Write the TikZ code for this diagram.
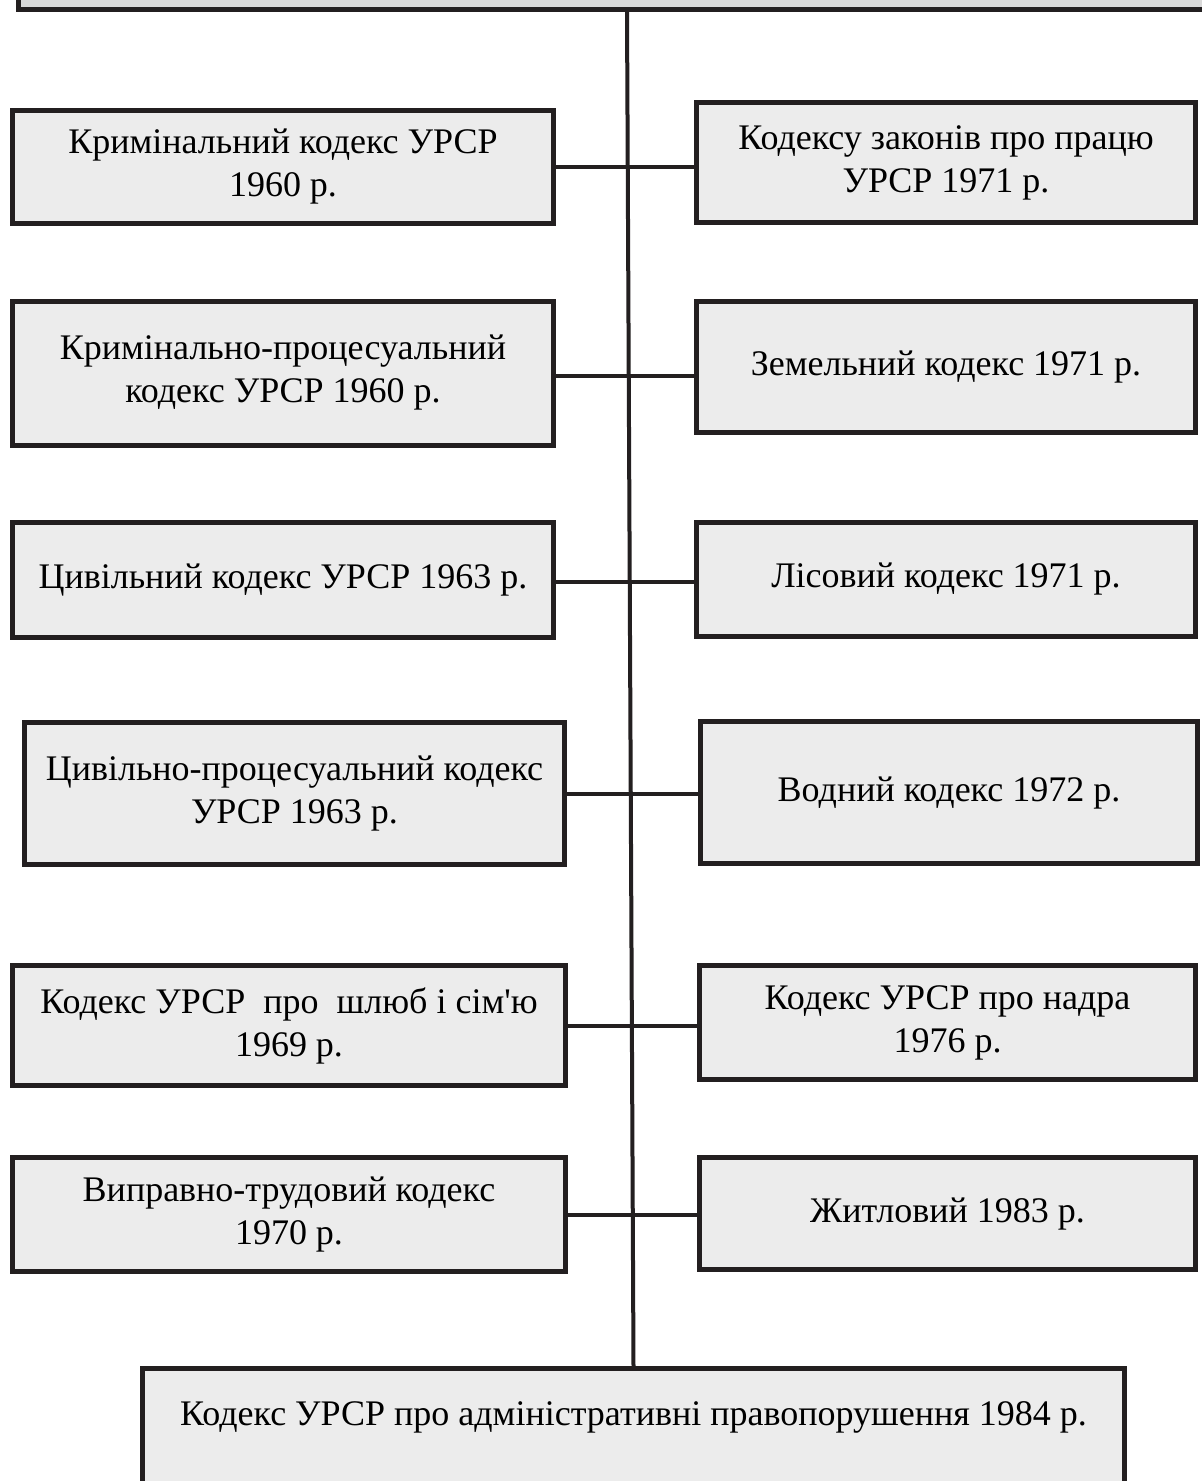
\documentclass[tikz,border=0pt]{standalone}
\usepackage{fontspec}
\setmainfont{Liberation Serif}[Ligatures=TeXOff]
\definecolor{frame}{HTML}{231F20}
\definecolor{boxfill}{HTML}{ECECEC}
\definecolor{headfill}{HTML}{D9D9D9}
\tikzset{
  codebox/.style={draw=frame, fill=boxfill, line width=5pt, inner sep=0pt,
    align=center, font=\fontsize{36}{43}\selectfont},
  link/.style={draw=frame, line width=4pt}
}
\begin{document}
\begin{tikzpicture}[x=1pt, y=-1pt]
\useasboundingbox (0,0) rectangle (1202,1481);
\clip (0,0) rectangle (1202,1481);
\fill[white] (0,0) rectangle (1202,1481);
% head and foot boxes
\node[codebox, fill=headfill, minimum width=1189pt, minimum height=107pt] (top) at (613,-44) {};
\node[codebox, minimum width=982pt, text height=57pt, text depth=80pt, anchor=north] (bottom) at (633.5,1366) {Кодекс УРСР про адміністративні правопорушення 1984 р.};
% left column
\node[codebox, minimum width=541pt, minimum height=113pt] (crim) at (283,167) {Кримінальний кодекс УРСР\\1960 р.};
\node[codebox, minimum width=541pt, minimum height=144pt] (crimproc) at (283,373) {Кримінально-процесуальний\\кодекс УРСР 1960 р.};
\node[codebox, minimum width=541pt, minimum height=115pt] (civil) at (283,580) {Цивільний кодекс УРСР 1963 р.};
\node[codebox, minimum width=540pt, minimum height=142pt] (civilproc) at (294.5,793) {Цивільно-процесуальний кодекс\\УРСР 1963 р.};
\node[codebox, minimum width=553pt, minimum height=120pt] (family) at (289,1025.5) {Кодекс УРСР\ \ про\ \ шлюб і сім'ю\\1969 р.};
\node[codebox, minimum width=553pt, minimum height=114pt] (labourcorr) at (289,1214.5) {Виправно-трудовий кодекс\\1970 р.};
% right column
\node[codebox, minimum width=499pt, minimum height=120pt] (labour) at (946,162.5) {Кодексу законів про працю\\УРСР 1971 р.};
\node[codebox, minimum width=499pt, minimum height=131pt] (land) at (946,367) {Земельний кодекс 1971 р.};
\node[codebox, minimum width=499pt, minimum height=114pt] (forest) at (946,579.5) {Лісовий кодекс 1971 р.};
\node[codebox, minimum width=497pt, minimum height=142pt] (water) at (949,792.5) {Водний кодекс 1972 р.};
\node[codebox, minimum width=496pt, minimum height=114pt] (mineral) at (947.5,1022.5) {Кодекс УРСР про надра\\1976 р.};
\node[codebox, minimum width=496pt, minimum height=112pt] (housing) at (947.5,1213.5) {Житловий 1983 р.};
% spine and branches
\draw[link] ([xshift=14pt]top.south) -- (bottom.north);
\draw[link] (crim.east) -- (crim.east -| labour.west);
\draw[link] ([yshift=-3pt]crimproc.east) -- ([yshift=-3pt]crimproc.east -| land.west);
\draw[link] ([yshift=-2pt]civil.east) -- ([yshift=-2pt]civil.east -| forest.west);
\draw[link] ([yshift=-1pt]civilproc.east) -- ([yshift=-1pt]civilproc.east -| water.west);
\draw[link] (family.east) -- (family.east -| mineral.west);
\draw[link] (labourcorr.east) -- (labourcorr.east -| housing.west);
\end{tikzpicture}
\end{document}
